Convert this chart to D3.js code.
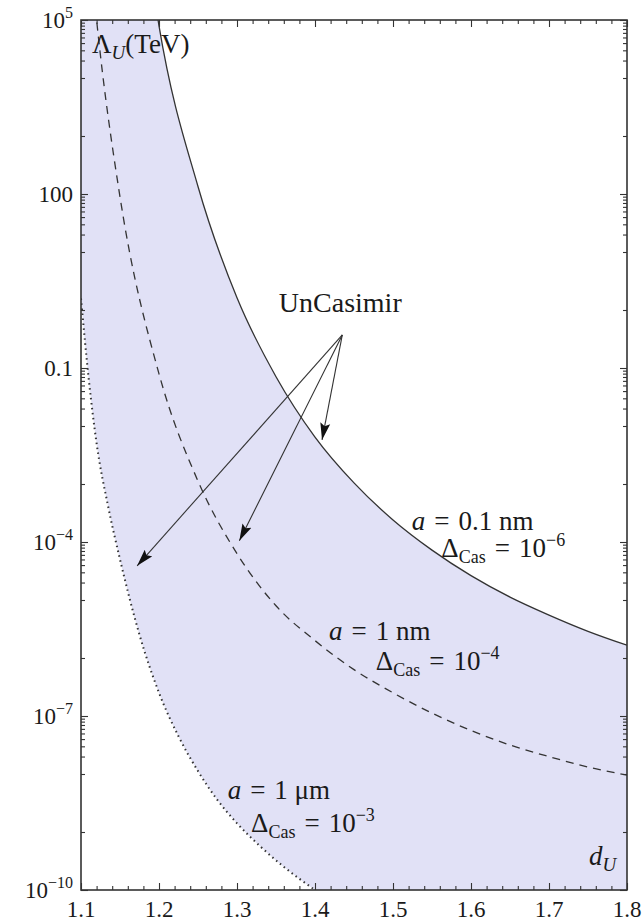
<!DOCTYPE html>
<html>
<head>
<meta charset="utf-8">
<script src="https://cdn.jsdelivr.net/npm/d3@7"></script>
<style>
  body { margin: 0; background: #fff; }
  text { font-family: "Liberation Serif", "DejaVu Serif", serif; fill: #1a1a1a; }
</style>
</head>
<body>
<svg id="ch" width="642" height="922"></svg>
<script>
// curves: d_U and log10(Lambda_U / TeV)
const solidD  = [1.19, 1.20, 1.25, 1.30, 1.35, 1.40, 1.45, 1.50, 1.55, 1.60, 1.65, 1.70, 1.75, 1.80];
const solidE  = [5.75, 4.9, 2.13, 0.21, -1.15, -2.19, -2.98, -3.62, -4.14, -4.58, -4.95, -5.26, -5.54, -5.78];
const dashedD = [1.11, 1.12, 1.15, 1.20, 1.25, 1.30, 1.35, 1.40, 1.45, 1.50, 1.55, 1.60, 1.65, 1.70, 1.75, 1.80];
const dashedE = [6.4, 5.0, 1.95, -1.1, -2.95, -4.2, -5.1, -5.7, -6.2, -6.6, -6.95, -7.25, -7.5, -7.7, -7.88, -8.02];
const dottedD = [1.10, 1.11, 1.12, 1.135, 1.15, 1.175, 1.20, 1.225, 1.25, 1.275, 1.30, 1.33, 1.36, 1.40];
const dottedE = [0.2, -1.2, -2.3, -3.4, -4.3, -5.6, -6.6, -7.35, -7.95, -8.45, -8.85, -9.25, -9.6, -10.0];

// axes
const xTicks = [1.1, 1.2, 1.3, 1.4, 1.5, 1.6, 1.7, 1.8];
const yTickExp = [5, 2, -1, -4, -7, -10];
const yTickLabels = [["10", "5"], ["100", ""], ["0.1", ""], ["10", "\u22124"], ["10", "\u22127"], ["10", "\u221210"]];
const minorMult = [2, 3, 4, 5, 6, 7, 8, 9];

// annotations (positions in data units)
const labels = [
  { d: 1.524, e: -3.79, a: "0.1 nm", d2: 1.562, e2: -4.26, p: "\u22126" },
  { d: 1.418, e: -5.69, a: "1 nm",   d2: 1.478, e2: -6.21, p: "\u22124" },
  { d: 1.288, e: -8.43, a: "1 \u03bcm", d2: 1.318, e2: -9.0, p: "\u22123" }
];
const arrowFrom = [1.435, -0.43];
const arrowTo = [[1.409, -2.24], [1.303, -3.98], [1.172, -4.41]];

const L = 81, R = 627, T = 20, B = 890;
const x = d3.scaleLinear().domain([1.1, 1.8]).range([L, R]);
const y = d3.scaleLog().domain([1e-10, 1e5]).range([B, T]);
const svg = d3.select("#ch");
const pts = (ds, es) => ds.map((d, i) => [d, Math.pow(10, es[i])]);
const solid = pts(solidD, solidE), dashed = pts(dashedD, dashedE), dotted = pts(dottedD, dottedE);
const SP = "\u2004";

const defs = svg.append("defs");
defs.append("clipPath").attr("id", "cp").append("rect")
  .attr("x", L).attr("y", T).attr("width", R - L).attr("height", B - T);
defs.append("marker").attr("id", "ah").attr("viewBox", "0 0 17 11").attr("refX", 17).attr("refY", 5.5)
  .attr("markerWidth", 17).attr("markerHeight", 11).attr("markerUnits", "userSpaceOnUse").attr("orient", "auto")
  .append("path").attr("d", "M0 0.5L17 5.5L0 10.5L3 5.5z").attr("fill", "#111");

const g = svg.append("g").attr("clip-path", "url(#cp)");
g.append("rect").attr("x", L).attr("y", T).attr("width", R - L).attr("height", B - T).attr("fill", "#e1e1f6");

// white above solid and below dotted
g.append("path").datum(solid).attr("fill", "#fff")
  .attr("d", d3.area().x(p => x(p[0])).y0(T - 60).y1(p => y(p[1])).curve(d3.curveMonotoneX));
g.append("path").datum(dotted).attr("fill", "#fff")
  .attr("d", d3.area().x(p => x(p[0])).y0(B + 60).y1(p => y(p[1])).curve(d3.curveMonotoneX));

const line = d3.line().x(p => x(p[0])).y(p => y(p[1])).curve(d3.curveMonotoneX);
g.append("path").datum(solid).attr("d", line).attr("fill", "none").attr("stroke", "#333").attr("stroke-width", 1.3);
g.append("path").datum(dashed).attr("d", line).attr("fill", "none").attr("stroke", "#333").attr("stroke-width", 1.3)
  .attr("stroke-dasharray", "8,6");
g.append("path").datum(dotted).attr("d", line).attr("fill", "none").attr("stroke", "#333").attr("stroke-width", 2)
  .attr("stroke-dasharray", "1.5,3.5");

// ticks
const minorY = [];
yTickExp.slice(0, -1).forEach(n => {
  minorMult.forEach(m => minorY.push(m * Math.pow(10, n - 1)));
  minorY.push(Math.pow(10, n - 1), Math.pow(10, n - 2));
});
const minorX = d3.range(1.1, 1.8001, 0.02).filter(v => Math.abs(v * 10 - Math.round(v * 10)) > 1e-6);
const majorY = yTickExp.map(n => Math.pow(10, n));

function ticks(axis, pos, vals, size) {
  svg.append("g").attr("transform", pos)
    .call(axis.tickValues(vals).tickSize(size).tickFormat(""))
    .call(a => a.select(".domain").remove())
    .call(a => a.selectAll("line").attr("stroke", "#333").attr("stroke-width", 1.1));
}
ticks(d3.axisLeft(y), `translate(${L},0)`, majorY, -7);
ticks(d3.axisLeft(y), `translate(${L},0)`, minorY, -4);
ticks(d3.axisRight(y), `translate(${R},0)`, majorY, -7);
ticks(d3.axisRight(y), `translate(${R},0)`, minorY, -4);
ticks(d3.axisBottom(x), `translate(0,${B})`, xTicks, -7);
ticks(d3.axisBottom(x), `translate(0,${B})`, minorX, -4);
ticks(d3.axisTop(x), `translate(0,${T})`, xTicks, -7);
ticks(d3.axisTop(x), `translate(0,${T})`, minorX, -4);

svg.append("rect").attr("x", L).attr("y", T).attr("width", R - L).attr("height", B - T)
  .attr("fill", "none").attr("stroke", "#333").attr("stroke-width", 1.6);

// tick labels
svg.append("g").selectAll("text").data(xTicks).enter().append("text")
  .attr("x", d => x(d)).attr("y", B + 27).attr("text-anchor", "middle").attr("font-size", 23)
  .text(d => d.toFixed(1));
const yl = svg.append("g").selectAll("text").data(yTickExp).enter().append("text")
  .attr("x", L - 8).attr("y", d => y(Math.pow(10, d))).attr("dy", "0.35em")
  .attr("text-anchor", "end").attr("font-size", 23);
yl.append("tspan").text((d, i) => yTickLabels[i][0]);
yl.append("tspan").attr("dy", -10).attr("font-size", 16).text((d, i) => yTickLabels[i][1]);

// axis titles
const t1 = svg.append("text").attr("x", L + 11).attr("y", T + 33).attr("font-size", 27);
t1.append("tspan").text("\u039b");
t1.append("tspan").attr("font-style", "italic").attr("font-size", 19).attr("dy", 6).text("U");
t1.append("tspan").attr("dy", -6).text("(TeV)");
const t2 = svg.append("text").attr("x", 589).attr("y", B - 25).attr("font-size", 27);
t2.append("tspan").attr("font-style", "italic").text("d");
t2.append("tspan").attr("font-style", "italic").attr("font-size", 19).attr("dy", 6).text("U");

// curve labels
labels.forEach(l => {
  const a = svg.append("text").attr("x", x(l.d)).attr("y", y(Math.pow(10, l.e))).attr("font-size", 27);
  a.append("tspan").attr("font-style", "italic").text("a");
  a.append("tspan").text(SP + "=" + SP + l.a);
  const b = svg.append("text").attr("x", x(l.d2)).attr("y", y(Math.pow(10, l.e2))).attr("font-size", 27);
  b.append("tspan").text("\u0394");
  b.append("tspan").attr("font-size", 18).attr("dy", 6).text("Cas");
  b.append("tspan").attr("dy", -6).text(SP + "=" + SP + "10");
  b.append("tspan").attr("font-size", 18).attr("dy", -11).text(l.p);
});

// UnCasimir annotation
svg.append("text").attr("x", x(arrowFrom[0]) - 2).attr("y", 312).attr("text-anchor", "middle")
  .attr("font-size", 28).text("UnCasimir");
svg.append("g").selectAll("line").data(arrowTo).enter().append("line")
  .attr("x1", x(arrowFrom[0])).attr("y1", y(Math.pow(10, arrowFrom[1])))
  .attr("x2", d => x(d[0])).attr("y2", d => y(Math.pow(10, d[1])))
  .attr("stroke", "#333").attr("stroke-width", 1.1).attr("marker-end", "url(#ah)");
</script>
</body>
</html>
